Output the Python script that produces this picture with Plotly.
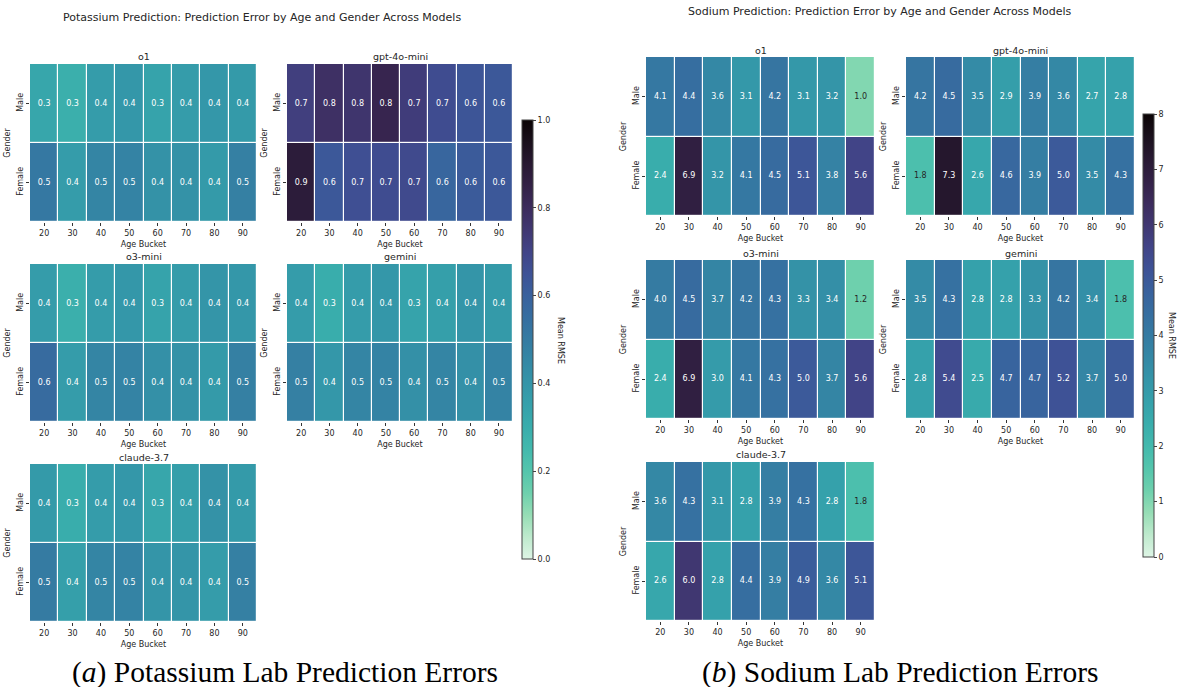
import plotly.graph_objects as go

W, H = 1178, 687

ages = ["20", "30", "40", "50", "60", "70", "80", "90"]
genders = ["Male", "Female"]
models = ["o1", "gpt-4o-mini", "o3-mini", "gemini", "claude-3.7"]

# Potassium mean RMSE  [Male row, Female row]
k_o1 = [[0.33, 0.29, 0.37, 0.39, 0.34, 0.37, 0.39, 0.38],
        [0.51, 0.37, 0.46, 0.47, 0.41, 0.41, 0.38, 0.48]]
k_gpt = [[0.72, 0.78, 0.76, 0.83, 0.73, 0.67, 0.64, 0.63],
         [0.88, 0.63, 0.66, 0.67, 0.68, 0.58, 0.62, 0.63]]
k_o3 = [[0.37, 0.29, 0.37, 0.39, 0.34, 0.37, 0.40, 0.39],
        [0.56, 0.37, 0.46, 0.47, 0.42, 0.41, 0.38, 0.48]]
k_gemini = [[0.37, 0.30, 0.37, 0.39, 0.34, 0.36, 0.40, 0.38],
            [0.48, 0.39, 0.46, 0.47, 0.42, 0.46, 0.42, 0.47]]
k_claude = [[0.38, 0.30, 0.37, 0.39, 0.33, 0.36, 0.41, 0.38],
            [0.50, 0.36, 0.46, 0.47, 0.40, 0.40, 0.37, 0.48]]

# Sodium mean RMSE  [Male row, Female row]
na_o1 = [[4.1, 4.4, 3.6, 3.1, 4.2, 3.1, 3.2, 1.0],
         [2.4, 6.9, 3.2, 4.1, 4.5, 5.1, 3.8, 5.6]]
na_gpt = [[4.2, 4.5, 3.5, 2.9, 3.9, 3.6, 2.7, 2.8],
          [1.8, 7.3, 2.6, 4.6, 3.9, 5.0, 3.5, 4.3]]
na_o3 = [[4.0, 4.5, 3.7, 4.2, 4.3, 3.3, 3.4, 1.2],
         [2.4, 6.9, 3.0, 4.1, 4.3, 5.0, 3.7, 5.6]]
na_gemini = [[3.5, 4.3, 2.8, 2.8, 3.3, 4.2, 3.4, 1.8],
             [2.8, 5.4, 2.5, 4.7, 4.7, 5.2, 3.7, 5.0]]
na_claude = [[3.6, 4.3, 3.1, 2.8, 3.9, 4.3, 2.8, 1.8],
             [2.6, 6.0, 2.8, 4.4, 3.9, 4.9, 3.6, 5.1]]

potassium = [k_o1, k_gpt, k_o3, k_gemini, k_claude]
sodium = [na_o1, na_gpt, na_o3, na_gemini, na_claude]

# approximate seaborn "mako" colormap (dark -> light); used reversed
mako = [(0.00, (11, 4, 5)), (0.05, (26, 16, 28)), (0.10, (40, 25, 50)),
        (0.15, (51, 33, 70)), (0.20, (60, 43, 92)), (0.25, (64, 55, 113)),
        (0.30, (65, 68, 135)), (0.35, (62, 82, 150)), (0.40, (57, 97, 157)),
        (0.45, (54, 110, 160)), (0.50, (53, 123, 162)), (0.55, (52, 136, 165)),
        (0.60, (52, 149, 168)), (0.65, (53, 161, 171)), (0.70, (57, 173, 172)),
        (0.75, (67, 185, 173)), (0.80, (84, 197, 172)), (0.85, (110, 208, 173)),
        (0.90, (150, 221, 181)), (0.95, (190, 234, 205)), (1.00, (222, 245, 229))]
mako_r = [(round(1 - t, 4), c) for t, c in reversed(mako)]
colorscale = [[t, "rgb(%d,%d,%d)" % c] for t, c in mako_r]


def cmap(t):
    t = min(max(t, 0.0), 1.0)
    for (t0, c0), (t1, c1) in zip(mako_r[:-1], mako_r[1:]):
        if t0 <= t <= t1:
            f = 0 if t1 == t0 else (t - t0) / (t1 - t0)
            return [c0[i] + f * (c1[i] - c0[i]) for i in range(3)]
    return list(mako_r[-1][1])


def text_color(v, vmax):
    r, g, b = [x / 255 for x in cmap(v / vmax)]
    lin = [x / 12.92 if x <= 0.03928 else ((x + 0.055) / 1.055) ** 2.4 for x in (r, g, b)]
    lum = 0.2126 * lin[0] + 0.7152 * lin[1] + 0.0722 * lin[2]
    return "#262626" if lum > 0.408 else "white"


def px_x(p):
    return p / W


def px_y(p):
    return 1 - p / H


FONT = "DejaVu Sans"
TXT = "#262626"
SMALL = 8
fig = go.Figure()
annotations = []

panels = [
    dict(data=potassium, vmax=1.0, ca="coloraxis",
         cols=[(30, 257), (287, 513)], rows=[(64, 222), (264, 422), (464, 622)]),
    dict(data=sodium, vmax=8.0, ca="coloraxis2",
         cols=[(646, 875), (906, 1135)], rows=[(57, 216), (260, 419), (462, 621)]),
]

n = 0
for p in panels:
    for i, (name, z) in enumerate(zip(models, p["data"])):
        n += 1
        r, c = divmod(i, 2)
        x0, x1 = p["cols"][c]
        y0, y1 = p["rows"][r]
        xa, ya = ("x%d" % n, "y%d" % n)
        fig.add_trace(go.Heatmap(z=z, x=ages, y=genders, coloraxis=p["ca"],
                                 xgap=1.2, ygap=1.2, xaxis=xa, yaxis=ya,
                                 hoverinfo="skip"))
        tx, ty, tt, tc = [], [], [], []
        for gi, g in enumerate(genders):
            for ai, a in enumerate(ages):
                v = z[gi][ai]
                tx.append(a)
                ty.append(g)
                tt.append("%.1f" % v)
                tc.append(text_color(v, p["vmax"]))
        fig.add_trace(go.Scatter(x=tx, y=ty, text=tt, mode="text",
                                 textfont=dict(color=tc, size=SMALL, family=FONT),
                                 xaxis=xa, yaxis=ya, showlegend=False,
                                 hoverinfo="skip"))
        axcommon = dict(showgrid=False, zeroline=False, showline=False,
                        ticks="outside", ticklen=3, tickwidth=0.8, tickcolor="#333",
                        tickfont=dict(size=SMALL, family=FONT, color=TXT))
        fig.layout["xaxis%d" % n] = dict(
            domain=[px_x(x0), px_x(x1)], anchor=ya, type="category",
            title=dict(text="Age Bucket", font=dict(size=SMALL, family=FONT, color=TXT),
                       standoff=4), **axcommon)
        fig.layout["yaxis%d" % n] = dict(
            domain=[px_y(y1), px_y(y0)], anchor=xa, type="category",
            categoryorder="array", categoryarray=genders, autorange="reversed",
            tickangle=-90,
            title=dict(text="Gender", font=dict(size=SMALL, family=FONT, color=TXT),
                       standoff=3), **axcommon)
        annotations.append(dict(text=name, x=px_x((x0 + x1) / 2), y=px_y(y0 - 7),
                                xref="paper", yref="paper", showarrow=False,
                                xanchor="center", yanchor="middle",
                                font=dict(size=9.5, family=FONT, color=TXT)))

cb_common = dict(thickness=11, thicknessmode="pixels", lenmode="pixels",
                 xanchor="left", yanchor="top", xpad=0, ypad=0,
                 outlinewidth=1, outlinecolor="#444", ticks="outside", ticklen=3,
                 tickcolor="#444", tickfont=dict(size=SMALL, family=FONT, color=TXT))
fig.update_layout(
    width=W, height=H, margin=dict(l=0, r=0, t=0, b=0),
    paper_bgcolor="white", plot_bgcolor="white", showlegend=False,
    coloraxis=dict(colorscale=colorscale, cmin=0, cmax=1.0,
                   colorbar=dict(x=px_x(522), y=px_y(120), len=439,
                                 tickvals=[0, 0.2, 0.4, 0.6, 0.8, 1.0],
                                 ticktext=["0.0", "0.2", "0.4", "0.6", "0.8", "1.0"],
                                 **cb_common)),
    coloraxis2=dict(colorscale=colorscale, cmin=0, cmax=8.0,
                    colorbar=dict(x=px_x(1143), y=px_y(114), len=443,
                                  tickvals=list(range(9)), **cb_common)),
)

annotations += [
    dict(text="Potassium Prediction: Prediction Error by Age and Gender Across Models",
         x=px_x(262), y=px_y(18), font=dict(size=11, family=FONT, color=TXT)),
    dict(text="Sodium Prediction: Prediction Error by Age and Gender Across Models",
         x=px_x(880), y=px_y(11), font=dict(size=11, family=FONT, color=TXT)),
    dict(text="Mean RMSE", x=px_x(561), y=px_y(340), textangle=90,
         font=dict(size=SMALL, family=FONT, color=TXT)),
    dict(text="Mean RMSE", x=px_x(1172), y=px_y(335), textangle=90,
         font=dict(size=SMALL, family=FONT, color=TXT)),
    dict(text="(<i>a</i>) Potassium Lab Prediction Errors", x=px_x(285), y=px_y(672),
         font=dict(size=29.5, family="Liberation Serif", color="black")),
    dict(text="(<i>b</i>) Sodium Lab Prediction Errors", x=px_x(900), y=px_y(672),
         font=dict(size=29.5, family="Liberation Serif", color="black")),
]
for a in annotations[-6:]:
    a.update(xref="paper", yref="paper", showarrow=False, xanchor="center", yanchor="middle")
fig.update_layout(annotations=annotations)

fig.write_html("out.html")
